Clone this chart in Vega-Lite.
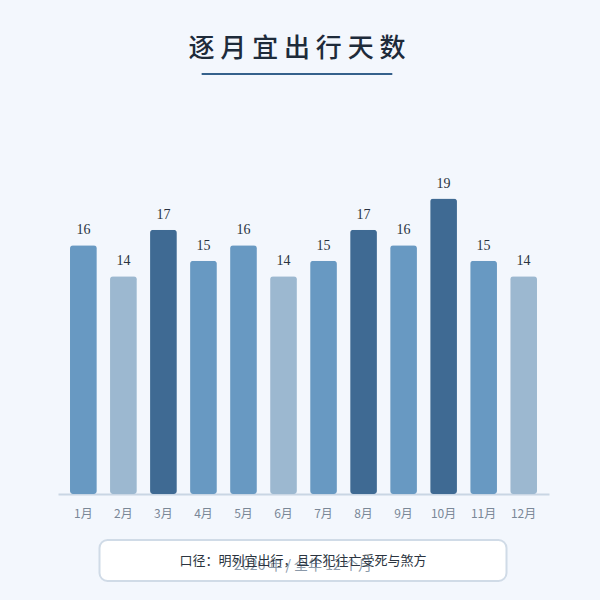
{
  "$schema": "https://vega.github.io/schema/vega-lite/v6.json",
  "autosize": "pad",
  "padding": {"left": 58, "top": 36, "right": 51, "bottom": 18},
  "background": "#f3f7fd",
  "config": {
    "font": "Noto Sans CJK SC",
    "view": {"stroke": null}
  },
  "datasets": {
    "months": [
      {"month": "1月", "days": 16},
      {"month": "2月", "days": 14},
      {"month": "3月", "days": 17},
      {"month": "4月", "days": 15},
      {"month": "5月", "days": 16},
      {"month": "6月", "days": 14},
      {"month": "7月", "days": 15},
      {"month": "8月", "days": 17},
      {"month": "9月", "days": 16},
      {"month": "10月", "days": 19},
      {"month": "11月", "days": 15},
      {"month": "12月", "days": 14}
    ],
    "note": [
      {"rule": "口径：明列宜出行，且不犯往亡受死与煞方", "span": "2026 年 / 全年 12 个月"}
    ]
  },
  "vconcat": [
    {
      "width": 191,
      "height": 2,
      "view": {"fill": "#35618c", "cornerRadius": 1},
      "title": {
        "text": "逐 月 宜 出 行 天 数",
        "fontSize": 26,
        "fontWeight": 500,
        "color": "#1e2b3a",
        "offset": 6,
        "anchor": "middle"
      },
      "data": {"name": "note"},
      "mark": {"type": "text"},
      "encoding": {"text": {"value": ""}}
    },
    {
      "width": 491,
      "height": 395,
      "data": {"name": "months"},
      "encoding": {
        "x": {
          "field": "month",
          "type": "ordinal",
          "sort": null,
          "scale": {"paddingInner": 0.33, "paddingOuter": 0.3},
          "axis": {
            "title": null,
            "labelAngle": 0,
            "ticks": false,
            "labelPadding": 14,
            "labelFontSize": 12,
            "labelColor": "#7a8797",
            "domainColor": "#c9d6e4",
            "domainWidth": 2
          }
        },
        "y": {
          "field": "days",
          "type": "quantitative",
          "scale": {"domain": [0, 25.4]},
          "axis": null
        }
      },
      "layer": [
        {
          "mark": {"type": "bar", "cornerRadius": 3},
          "encoding": {
            "color": {
              "condition": [
                {"test": "datum.days >= 17", "value": "#3f6a93"},
                {"test": "datum.days <= 14", "value": "#9cb8d0"}
              ],
              "value": "#6899c2"
            }
          }
        },
        {
          "mark": {
            "type": "text",
            "baseline": "bottom",
            "dy": -8,
            "font": "Liberation Serif",
            "fontSize": 14,
            "color": "#2a3340"
          },
          "encoding": {"text": {"field": "days", "type": "quantitative"}}
        }
      ]
    },
    {
      "width": 407,
      "height": 41,
      "view": {"fill": "#ffffff", "stroke": "#d0dbe7", "strokeWidth": 2, "cornerRadius": 8},
      "data": {"name": "note"},
      "layer": [
        {
          "mark": {"type": "text", "fontSize": 14, "color": "#8a98a8", "dy": 5},
          "encoding": {"text": {"field": "span"}}
        },
        {
          "mark": {"type": "text", "fontSize": 13, "color": "#2b3440", "dy": 0},
          "encoding": {"text": {"field": "rule"}}
        }
      ]
    }
  ],
  "spacing": 20,
  "center": true
}
